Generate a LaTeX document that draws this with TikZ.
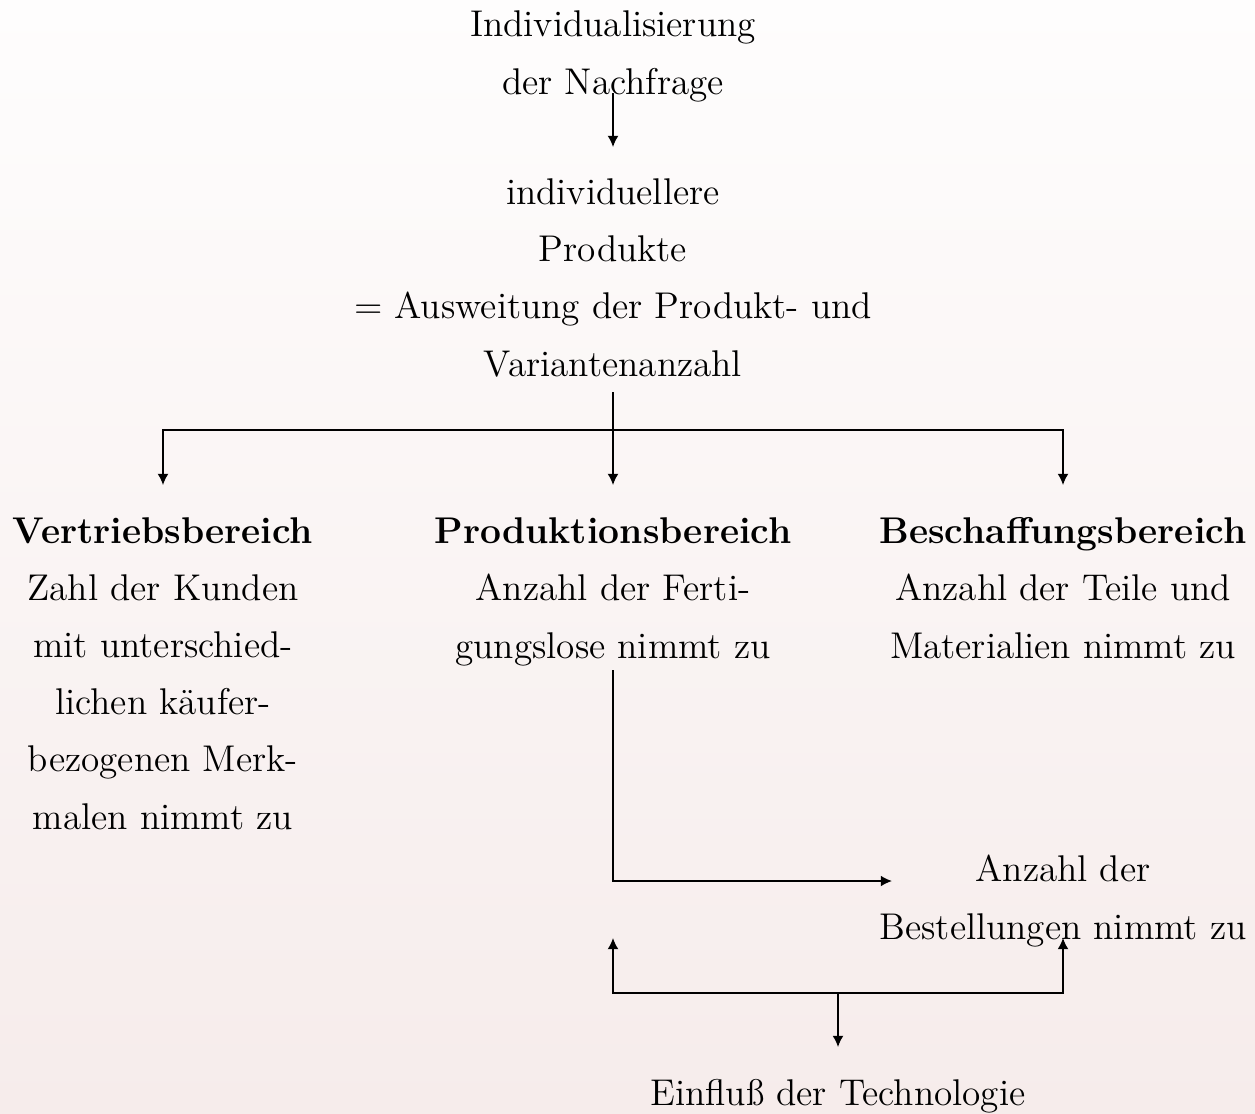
\documentclass[tikz,border=0pt]{standalone}
\usepackage{fontspec}
\usetikzlibrary{arrows.meta,calc}
\definecolor{bgtop}{RGB}{254,253,253}
\definecolor{bgbot}{RGB}{246,236,235}
\begin{document}
\begin{tikzpicture}[x=0.32258pt,y=-0.32258pt,
  lbl/.style={inner sep=0pt,align=center,anchor=base,
    font=\fontsize{12}{18.4}\selectfont},
  link/.style={line width=0.45pt},
  arr/.style={link,-{Latex[length=3.6pt,width=3.5pt]}}]
  % page and background
  \useasboundingbox (0,0) rectangle (1255,1113);
  \shade[top color=bgtop,bottom color=bgbot] (0,0) rectangle (1255,1113);

  % text blocks (each placed at the baseline of its last line)
  \node[lbl] (src) at (613,94) {Individualisierung\\der Nachfrage};
  \node[lbl] (prd) at (613,376) {individuellere\\Produkte\\$=$ Ausweitung der Produkt- und\\Variantenanzahl};
  \node[lbl] (vt) at (163,829) {\textbf{Vertriebsbereich}\\Zahl der Kunden\\mit unterschied-\\lichen käufer-\\bezogenen Merk-\\malen nimmt zu};
  \node[lbl] (pr) at (613,658) {\textbf{Produktionsbereich}\\Anzahl der Ferti-\\gungslose nimmt zu};
  \node[lbl] (bs) at (1063,658) {\textbf{Beschaffungsbereich}\\Anzahl der Teile und\\Materialien nimmt zu};
  \node[lbl] (bst) at (1063,939) {Anzahl der\\Bestellungen nimmt zu};
  \node[lbl] (tech) at (838,1105) {Einfluß der Technologie};

  % junction points
  \coordinate (fork) at (613,430);
  \coordinate (join) at (838,993);

  % connectors
  \draw[arr] ($(src.base)+(0,-1)$) -- ($(prd.base)+(0,-229)$);
  \draw[link] ($(prd.base)+(0,16)$) -- (fork);
  \draw[arr] (fork) -- ($(pr.base)+(0,-173)$);
  \draw[arr] (fork) -| ($(vt.base)+(0,-344)$);
  \draw[arr] (fork) -| ($(bs.base)+(0,-173)$);
  \draw[arr] ($(pr.base)+(0,12)$) |- ($(bst.base west)+(13,-58)$);
  \draw[arr] (join) -| ($(pr.base)+(0,280)$);
  \draw[arr] (join) -| ($(bst.base)+(0,-1)$);
  \draw[arr] (join) -- ($(tech.base)+(0,-58)$);
\end{tikzpicture}
\end{document}
